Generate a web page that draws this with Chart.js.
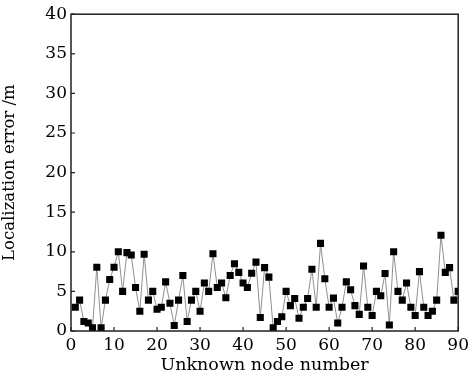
<!DOCTYPE html>
<html>
<head>
<meta charset="utf-8">
<script src="https://cdn.jsdelivr.net/npm/chart.js@4.4.0/dist/chart.umd.min.js"></script>
<style>
  html, body { margin: 0; padding: 0; background: #fff; }
  #wrap { width: 473px; height: 376px; }
</style>
</head>
<body>
<div id="wrap"><canvas id="chart" width="473" height="376"></canvas></div>
<script>
// node numbers 1..90 and the error
const nodeNumbers = [
  1, 2, 3, 4, 5, 6, 7, 8, 9, 10, 11, 12, 13, 14, 15, 16, 17, 18, 19, 20,
  21, 22, 23, 24, 25, 26, 27, 28, 29, 30, 31, 32, 33, 34, 35, 36, 37, 38, 39, 40,
  41, 42, 43, 44, 45, 46, 47, 48, 49, 50, 51, 52, 53, 54, 55, 56, 57, 58, 59, 60,
  61, 62, 63, 64, 65, 66, 67, 68, 69, 70, 71, 72, 73, 74, 75, 76, 77, 78, 79, 80,
  81, 82, 83, 84, 85, 86, 87, 88, 89, 90,
];
const errors = [
  3.0, 3.9, 1.2, 1.0, 0.4, 8.05, 0.4, 3.9, 6.5, 8.05,
  10.0, 5.0, 9.9, 9.6, 5.5, 2.5, 9.7, 3.9, 5.0, 2.75,
  3.0, 6.2, 3.5, 0.7, 3.9, 7.0, 1.2, 3.9, 5.0, 2.5,
  6.05, 5.0, 9.75, 5.5, 6.05, 4.2, 7.0, 8.5, 7.4, 6.05,
  5.5, 7.3, 8.7, 1.7, 8.0, 6.8, 0.4, 1.2, 1.8, 5.0,
  3.2, 4.1, 1.6, 3.0, 4.1, 7.8, 3.0, 11.06, 6.6, 3.0,
  4.15, 1.0, 3.0, 6.2, 5.2, 3.2, 2.1, 8.2, 3.0, 1.95,
  5.0, 4.45, 7.25, 0.76, 10.0, 5.0, 3.9, 6.05, 3.0, 1.95,
  7.5, 3.0, 1.95, 2.5, 3.9, 12.08, 7.4, 8.0, 3.9, 5.0,
];
const xTitle = 'Unknown node number';
const yTitle = 'Localization error /m';

const serif = '"DejaVu Serif", "Liberation Serif", serif';

// frame round the plot plus inward tick marks on bottom and left
const frameAndTicks = {
  id: 'frameAndTicks',
  afterDraw(chart) {
    const { ctx, chartArea: a, scales } = chart;
    ctx.save();
    ctx.strokeStyle = '#222';
    ctx.lineWidth = 1.5;
    ctx.strokeRect(a.left, a.top, a.right - a.left, a.bottom - a.top);
    ctx.lineWidth = 1.2;
    ctx.beginPath();
    scales.x.ticks.forEach((t, i) => {
      const px = scales.x.getPixelForTick(i);
      ctx.moveTo(px, a.bottom);
      ctx.lineTo(px, a.bottom - 4);
    });
    scales.y.ticks.forEach((t, i) => {
      const py = scales.y.getPixelForTick(i);
      ctx.moveTo(a.left, py);
      ctx.lineTo(a.left + 4, py);
    });
    ctx.stroke();
    ctx.restore();
  },
};

new Chart(document.getElementById('chart'), {
  type: 'line',
  data: {
    datasets: [{
      data: nodeNumbers.map((n, i) => ({ x: n, y: errors[i] })),
      borderColor: '#909090',
      borderWidth: 1,
      backgroundColor: '#000',
      pointStyle: 'rect',
      pointRadius: 5,
      pointBorderWidth: 0,
      pointBackgroundColor: '#000',
      tension: 0,
    }],
  },
  options: {
    responsive: false,
    animation: false,
    layout: { padding: { left: 0, right: 8, top: 13, bottom: 0 } },
    plugins: { legend: { display: false }, tooltip: { enabled: false } },
    scales: {
      x: {
        type: 'linear',
        min: 0,
        max: 90,
        ticks: { stepSize: 10, color: '#000', font: { family: serif, size: 17 }, padding: 4, maxRotation: 0 },
        grid: { display: false, drawTicks: false },
        border: { display: false },
        title: { display: true, text: xTitle, color: '#000', font: { family: serif, size: 17.5 }, padding: { top: 0, bottom: 0 } },
        afterFit(scale) { scale.height = 45; },
      },
      y: {
        min: 0,
        max: 40,
        ticks: { stepSize: 5, color: '#000', font: { family: serif, size: 17 }, padding: 4 },
        grid: { display: false, drawTicks: false },
        border: { display: false },
        title: { display: true, text: yTitle, color: '#000', font: { family: serif, size: 16.5 }, padding: { top: 0, bottom: 0 } },
        afterFit(scale) { scale.width = 71; },
      },
    },
  },
  plugins: [frameAndTicks],
});
</script>
</body>
</html>
